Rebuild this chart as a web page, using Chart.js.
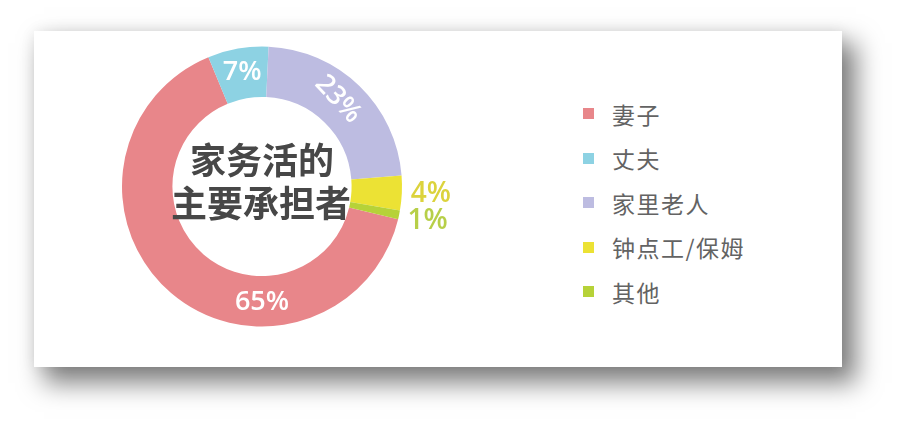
<!DOCTYPE html>
<html><head><meta charset="utf-8">
<script src="https://cdn.jsdelivr.net/npm/chart.js@4/dist/chart.umd.min.js"></script>
<style>
html,body{margin:0;padding:0;background:#fff;width:906px;height:431px;overflow:hidden;}
#card{position:absolute;left:34px;top:31px;width:808px;height:336px;background:#fff;
 box-shadow:12px 14px 24px 2px rgba(0,0,0,0.5),0 0 14px rgba(0,0,0,0.07);}
#wrap{position:absolute;left:100px;top:40px;width:360px;height:300px;}
#legend{position:absolute;left:583px;top:0;}
.item{position:absolute;left:0;white-space:nowrap;font-family:"Noto Sans CJK SC","Noto Sans",sans-serif;font-size:23px;letter-spacing:1.5px;color:#636363;}
.sw{position:absolute;left:0;width:11px;height:11px;}
.tx{position:absolute;left:29px;line-height:30px;top:-15px;}
</style></head>
<body>
<div id="card"></div>
<div id="wrap"><canvas id="c"></canvas></div>
<div id="legend"></div>
<script>
const categories = ["妻子","丈夫","家里老人","钟点工/保姆","其他"];
const shares = [65, 7, 23, 4, 1];
const pctLabels = ["65%","7%","23%","4%","1%"];
const centerTitle = ["家务活的","主要承担者"];

const colors = ["#e8868a","#8dd2e3","#bdbce1","#ece234","#b6d238"];
const outsideColors = ["#fff","#fff","#fff","#dcd33c","#b7cf48"];
// label placement style: 'in' inside ring, 'out' outside ring; optional fixed angle (deg from top) and rotation
const labelStyle = [
  {mode:'in', angle:180, rotate:false, size:27},
  {mode:'in', rotate:false, size:27},
  {mode:'in', rotate:true, shift:-3, extraRot:6, size:27},
  {mode:'out', rotate:false, size:28},
  {mode:'out', rotate:false, size:28}
];

const labelPlugin = {
  id:'labels',
  afterDatasetsDraw(chart){
    const ctx = chart.ctx;
    const meta = chart.getDatasetMeta(0);
    ctx.save();
    meta.data.forEach((arc,i)=>{
      const p = arc.getProps(['x','y','startAngle','endAngle','innerRadius','outerRadius'],true);
      const st = labelStyle[i];
      let mid = (p.startAngle+p.endAngle)/2; // radians, 0 = 3 o'clock
      if (st.angle!==undefined) mid = (st.angle-90)*Math.PI/180;
      if (st.shift) mid += st.shift*Math.PI/180;
      const r = st.mode==='in' ? (p.innerRadius+p.outerRadius)/2 + 1 : p.outerRadius + 29;
      const x = p.x + Math.cos(mid)*r, y = p.y + Math.sin(mid)*r;
      ctx.save();
      ctx.translate(x,y);
      if (st.rotate) ctx.rotate(mid + Math.PI/2 + (st.extraRot||0)*Math.PI/180);
      ctx.font = '600 '+st.size+'px "Open Sans", "DejaVu Sans", sans-serif';
      ctx.textAlign='center'; ctx.textBaseline='middle';
      ctx.fillStyle = outsideColors[i];
      ctx.fillText(pctLabels[i],0,0);
      ctx.restore();
    });
    // center title
    const a = meta.data[0];
    ctx.font = '600 36px "Noto Sans CJK SC", sans-serif';
    ctx.fillStyle = '#474747';
    ctx.textAlign='center'; ctx.textBaseline='middle';
    ctx.fillText(centerTitle[0], a.x, a.y-26);
    ctx.fillText(centerTitle[1], a.x-1, a.y+17);
    ctx.restore();
  }
};

new Chart(document.getElementById('c'),{
  type:'doughnut',
  data:{labels:categories,datasets:[{data:shares,backgroundColor:colors,borderWidth:0,hoverOffset:0}]},
  options:{
    responsive:true,maintainAspectRatio:false,animation:false,
    rotation:103.5,cutout:'64%',
    layout:{padding:{left:22,right:58,top:6,bottom:13}},
    plugins:{legend:{display:false},tooltip:{enabled:false}}
  },
  plugins:[labelPlugin]
});

const rowsY = [113.5,158,202.5,247,291.5];
const lg = document.getElementById('legend');
categories.forEach((c,i)=>{
  const d = document.createElement('div');
  d.className='item'; d.style.top = rowsY[i]+'px';
  d.innerHTML = '<div class="sw" style="top:-5.5px;background:'+colors[i]+'"></div><div class="tx">'+c+'</div>';
  lg.appendChild(d);
});
</script>
</body></html>
